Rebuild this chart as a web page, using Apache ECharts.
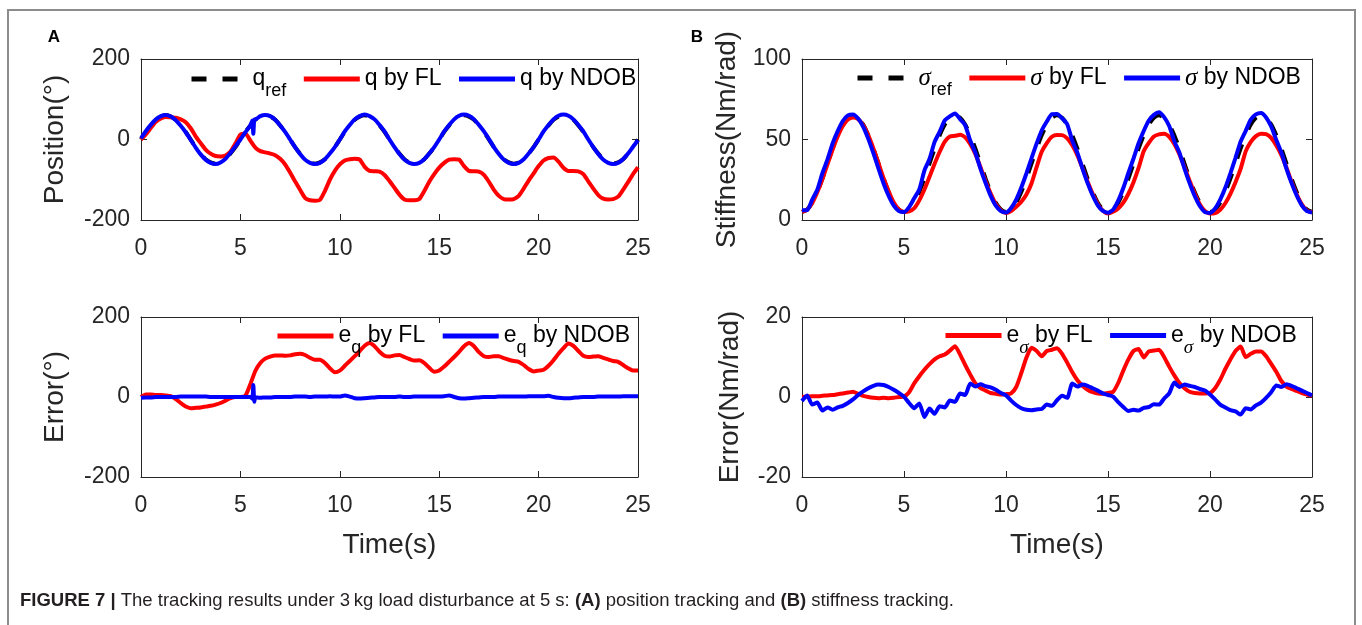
<!DOCTYPE html>
<html>
<head>
<meta charset="utf-8">
<script src="https://cdn.jsdelivr.net/npm/echarts@6/dist/echarts.min.js"></script>
<style>
html,body{margin:0;padding:0;background:#fff;}
#chart{width:1362px;height:625px;}
</style>
</head>
<body>
<div id="chart"></div>
<script>
// ---------------- DATA (time grid: 0 .. 25 s, step 0.25 s) ----------------
const T_START = 0, T_STEP = 0.25;
const xTickValues = [0, 5, 10, 15, 20, 25];

// Panel A (top): position tracking (deg)
const qRef = [
  0,19,35,49,57,60,57,49,35,19,0,-19,-35,-49,-57,-60,-57,-49,-35,-19,
  0,19,35,49,57,60,57,49,35,19,0,-19,-35,-49,-57,-60,-57,-49,-35,-19,
  0,19,35,49,57,60,57,49,35,19,0,-19,-35,-49,-57,-60,-57,-49,-35,-19,
  0,19,35,49,57,60,57,49,35,19,0,-19,-35,-49,-57,-60,-57,-49,-35,-19,
  0,19,35,49,57,60,57,49,35,19,0,-19,-35,-49,-57,-60,-57,-49,-35,-19,
  0];
const qFL = [
  0,13,29,44,52,56,55,54,50,43,28,8,-9,-25,-35,-41,-42,-40,-30,-10,
  12,15,-3,-20,-29,-32,-35,-39,-48,-62,-82,-104,-125,-145,-151,-152,-150,-128,-100,-78,
  -62,-52,-49,-48,-50,-68,-78,-79,-80,-88,-103,-120,-137,-149,-151,-151,-148,-128,-105,-86,
  -70,-58,-50,-49,-50,-66,-78,-79,-80,-88,-105,-125,-140,-148,-149,-148,-140,-122,-102,-84,
  -66,-52,-46,-45,-55,-70,-78,-78,-79,-86,-104,-122,-138,-147,-149,-148,-142,-125,-106,-86,
  -69];
const qNDOB = [
  3,21,37,50,58,61,57,48,34,18,-1,-20,-37,-50,-58,-61,-57,-48,-33,-17,
  0,18,35,50,58,61,58,49,35,19,0,-19,-36,-50,-58,-61,-58,-49,-35,-19,
  0,20,36,50,58,62,58,50,36,20,0,-19,-36,-50,-58,-61,-58,-49,-35,-19,
  0,20,36,50,59,62,59,50,36,20,1,-19,-36,-50,-58,-61,-58,-49,-35,-19,
  0,20,36,50,59,62,59,50,36,20,0,-19,-36,-50,-58,-61,-58,-49,-35,-18,
  -2];
const qNDOBSpike = [[5.6, 47], [5.65, 14], [5.7, 50]];

// Panel A (bottom): position error (deg)
const eqFL = [
  0,6,6,5,5,4,2,-5,-15,-24,-28,-27,-26,-24,-22,-19,-15,-9,-3,0,
  0,3,32,65,85,96,101,104,104,103,104,107,108,105,98,93,93,85,72,62,
  66,78,90,102,115,128,135,127,113,103,101,104,105,100,95,91,92,85,73,63,
  66,76,88,100,113,127,135,127,112,102,100,102,102,97,93,90,88,80,70,64,
  66,68,78,92,108,122,134,128,115,103,100,101,102,98,94,90,88,80,72,66,
  66];
const eqNDOB = [
  -2,-1,-1,0,0,0,0,0,1,1,1,1,1,1,0,0,0,0,0,0,
  0,0,0,-1,-2,-1,-1,0,0,0,0,1,1,1,0,1,1,1,2,1,
  1,4,1,-3,-4,-3,-2,-1,0,0,0,0,1,0,0,1,1,1,1,1,
  1,2,4,0,-3,-4,-3,-2,-1,0,0,0,1,1,1,1,1,1,2,2,
  2,2,3,0,-2,-3,-3,-2,-1,0,0,0,1,1,1,1,1,2,2,2,
  2];
const eqNDOBSpike = [[5.6, -4], [5.65, 30], [5.7, -12]];

// Panel B (top): stiffness tracking (Nm/rad)
const sRef = [
  5,6.5,10.7,17.4,25.7,35,44.3,52.6,59.3,63.5,65,63.5,59.3,52.6,44.3,35,25.7,17.4,10.7,6.5,
  5,6.5,10.7,17.4,25.7,35,44.3,52.6,59.3,63.5,65,63.5,59.3,52.6,44.3,35,25.7,17.4,10.7,6.5,
  5,6.5,10.7,17.4,25.7,35,44.3,52.6,59.3,63.5,65,63.5,59.3,52.6,44.3,35,25.7,17.4,10.7,6.5,
  5,6.5,10.7,17.4,25.7,35,44.3,52.6,59.3,63.5,65,63.5,59.3,52.6,44.3,35,25.7,17.4,10.7,6.5,
  5,6.5,10.7,17.4,25.7,35,44.3,52.6,59.3,63.5,65,63.5,59.3,52.6,44.3,35,25.7,17.4,10.7,6.5,
  5];
const sFL = [
  5,6.4,10.5,17.2,25.4,34.6,43.8,51.9,58.4,62.4,63.7,62.7,59.0,52.6,44.5,35.3,25.9,17.7,10.9,6.5,
  4.9,5.3,7.3,12.2,18.9,26.8,34.9,42.4,48.7,51.9,52.3,52.9,51.3,47,40.9,32.8,24.1,16.4,9.9,5.9,
  4.3,5.6,8.2,11.4,15.9,22.7,32.8,42.4,47.8,51.7,52.8,52.7,50.7,46.4,40.1,32.2,23.9,16.2,9.8,5.7,
  4.0,5.2,7.2,10.8,16.3,23.5,32.3,42.7,47.9,51.9,53.2,53.5,51.7,47.2,40.8,32.8,24.4,16.4,9.8,5.6,
  4.0,4.3,6.4,10.4,16.3,23.5,31.7,42.6,48.5,52.1,53.6,53.3,51,46.3,40.3,32.4,23.7,15.9,9.7,5.9,
  4.7];
const sNDOB = [
  6.0,6.1,12.6,18.8,29.1,37.6,47.5,55.2,61.5,65.0,65.6,63.0,57.9,50.4,41.5,31.9,22.7,14.9,8.9,5.5,
  4.9,8.0,13.5,19.0,30.7,37.9,48.5,54.9,61.9,64.4,66.2,62.6,58.8,49.2,41.7,31.8,23.0,15.0,8.9,5.5,
  4.6,7.4,12.7,20.2,28.9,38.3,47.4,55.6,61.2,65.7,65.8,63.2,59.5,49.2,41.7,31.9,22.9,15.2,9.1,5.6,
  4.5,6.4,12.0,19.9,29.2,38.2,47.7,55.3,61.8,65.3,66.9,63.9,58.4,49.0,41.8,31.9,22.9,14.9,8.7,4.9,
  4.4,7.1,12.6,20.0,29.0,38.6,48.7,55.4,62.4,65.6,66.4,63.7,58.1,49.7,41.8,31.8,22.9,15.2,9.1,5.5,
  4.6];

// Panel B (bottom): stiffness error (Nm/rad)
const esFL = [
  0,0.1,0.2,0.2,0.3,0.4,0.5,0.7,0.9,1.1,1.3,0.8,0.3,0,-0.2,-0.3,-0.2,-0.3,-0.2,0,
  0.1,1.2,3.4,5.2,6.8,8.2,9.4,10.2,10.6,11.6,12.7,10.6,8,5.6,3.4,2.2,1.6,1.0,0.8,0.6,
  0.7,0.9,2.5,6,9.8,12.3,11.5,10.2,11.5,11.8,12.2,10.8,8.6,6.2,4.2,2.8,1.8,1.2,0.9,0.8,
  1.0,1.3,3.5,6.6,9.4,11.5,12.0,9.9,11.4,11.6,11.8,10,7.6,5.4,3.5,2.2,1.3,1.0,0.9,0.9,
  1.0,2.2,4.3,7,9.4,11.5,12.6,10,10.8,11.4,11.4,10.2,8.3,6.3,4,2.6,2,1.5,1,0.6,
  0.3];
const esNDOB = [
  -1.0,0.4,-1.9,-1.4,-3.4,-2.6,-3.2,-2.6,-2.2,-1.5,-0.6,0.5,1.4,2.2,2.8,3.1,3.0,2.5,1.8,1.0,
  0.1,-1.5,-2.8,-1.6,-5.0,-2.9,-4.2,-2.3,-2.6,-0.9,-1.2,0.9,0.5,3.4,2.6,3.2,2.7,2.4,1.8,1.0,
  0.4,-0.9,-2.0,-2.8,-3.2,-3.3,-3.1,-3.0,-1.9,-2.2,-0.8,0.3,-0.2,3.4,2.6,3.1,2.8,2.2,1.6,0.9,
  0.5,0.1,-1.3,-2.5,-3.5,-3.2,-3.4,-2.7,-2.5,-1.8,-1.9,-0.4,0.9,3.6,2.5,3.1,2.8,2.5,2.0,1.6,
  0.6,-0.6,-1.9,-2.6,-3.3,-3.6,-4.4,-2.8,-3.1,-2.1,-1.4,-0.2,1.2,2.9,2.5,3.2,2.8,2.2,1.6,1.0,
  0.4];

// Axis ranges / tick labels
const panels = [
  { yName: 'Position(°)',       yMin: -200, yMax: 200, yStep: 200 },
  { yName: 'Stiffness(Nm/rad)', yMin: 0,    yMax: 100, yStep: 50  },
  { yName: 'Error(°)',          yMin: -200, yMax: 200, yStep: 200 },
  { yName: 'Error(Nm/rad)',     yMin: -20,  yMax: 20,  yStep: 20  }
];
const xName = 'Time(s)';
const captionText = '{b|FIGURE 7 |} The tracking results under 3\u2009kg load disturbance at 5 s: {b|(A)} position tracking and {b|(B)} stiffness tracking.';

// ---------------- helpers ----------------
function toPairs(vals, extra) {
  const out = vals.map((v, i) => [T_START + i * T_STEP, v]);
  if (extra) { extra.forEach(p => out.push(p)); out.sort((a, b) => a[0] - b[0]); }
  return out;
}

const FONT = '"Liberation Sans", Arial, Helvetica, sans-serif';
const AXC = '#262626';
const RED = '#ff0000', BLUE = '#0000ff', BLACK = '#000000';

const gridRects = [
  { left: 141, top: 59,  width: 497, height: 161 },
  { left: 802, top: 59,  width: 510, height: 161 },
  { left: 141, top: 317, width: 497, height: 160 },
  { left: 802, top: 317, width: 510, height: 160 }
];
const yNameGaps = [72, 61, 72, 58];

const grid = gridRects.map(r => Object.assign({ containLabel: false, outerBoundsMode: 'none' }, r));

const xAxis = [], yAxis = [];
gridRects.forEach((r, gi) => {
  const p = panels[gi];
  const isBottom = gi >= 2;
  const line = { show: true, onZero: false, lineStyle: { color: AXC, width: 1 } };
  const tick = { show: true, inside: true, length: 6, lineStyle: { color: AXC, width: 1 } };
  xAxis.push({
    gridIndex: gi, type: 'value', position: 'bottom', min: 0, max: 25, interval: 5,
    axisLine: line, axisTick: tick, splitLine: { show: false },
    axisLabel: { show: true, color: AXC, fontSize: 23, fontFamily: FONT, margin: 17,
                 showMinLabel: true, showMaxLabel: true },
    name: isBottom ? xName : '', nameLocation: 'middle', nameGap: 54,
    nameTextStyle: { color: AXC, fontSize: 28, fontFamily: FONT }
  });
  xAxis.push({
    gridIndex: gi, type: 'value', position: 'top', min: 0, max: 25, interval: 5,
    axisLine: line, axisTick: tick, splitLine: { show: false }, axisLabel: { show: false }
  });
  yAxis.push({
    gridIndex: gi, type: 'value', position: 'left', min: p.yMin, max: p.yMax, interval: p.yStep,
    axisLine: line, axisTick: tick, splitLine: { show: false },
    axisLabel: { show: true, color: AXC, fontSize: 23, fontFamily: FONT, margin: 11,
                 showMinLabel: true, showMaxLabel: true },
    name: p.yName, nameLocation: 'middle', nameRotate: 90, nameGap: yNameGaps[gi],
    nameTextStyle: { color: AXC, fontSize: 28, fontFamily: FONT }
  });
  yAxis.push({
    gridIndex: gi, type: 'value', position: 'right', min: p.yMin, max: p.yMax, interval: p.yStep,
    axisLine: line, axisTick: tick, splitLine: { show: false }, axisLabel: { show: false }
  });
});

function mkSeries(name, gi, data, color, dashed) {
  return {
    type: 'line', name: name, xAxisIndex: gi * 2, yAxisIndex: gi * 2,
    data: data, symbol: 'none', showSymbol: false, smooth: 0.2, color: color,
    lineStyle: { color: color, width: 4, type: dashed ? [15, 16] : 'solid' },
    animation: false, silent: true
  };
}

const series = [
  mkSeries('q_ref', 0, toPairs(qRef), BLACK, true),
  mkSeries('q by FL', 0, toPairs(qFL), RED),
  mkSeries('q by NDOB', 0, toPairs(qNDOB, qNDOBSpike), BLUE),
  mkSeries('σ_ref', 1, toPairs(sRef), BLACK, true),
  mkSeries('σ by FL', 1, toPairs(sFL), RED),
  mkSeries('σ by NDOB', 1, toPairs(sNDOB), BLUE),
  mkSeries('e_q by FL', 2, toPairs(eqFL), RED),
  mkSeries('e_q by NDOB', 2, toPairs(eqNDOB, eqNDOBSpike), BLUE),
  mkSeries('e_σ by FL', 3, toPairs(esFL), RED),
  mkSeries('e_σ by NDOB', 3, toPairs(esNDOB), BLUE)
];

const legendLabels = {
  'q_ref': '{m|q}{sub|ref}',
  'q by FL': '{m|q by FL}',
  'q by NDOB': '{m|q by NDOB}',
  'σ_ref': '{sig|σ}{sub|ref}',
  'σ by FL': '{sig|σ}{m| by FL}',
  'σ by NDOB': '{sig|σ}{m| by NDOB}',
  'e_q by FL': '{m|e}{sub|q}{m| by FL}',
  'e_q by NDOB': '{m|e}{sub|q}{m| by NDOB}',
  'e_σ by FL': '{m|e}{subsig|σ}{m| by FL}',
  'e_σ by NDOB': '{m|e}{subsig|σ}{m| by NDOB}'
};
const rich = {
  m:      { fontSize: 23, fontFamily: FONT, color: '#000', lineHeight: 44, verticalAlign: 'middle' },
  sig:    { fontSize: 25, fontFamily: '"Liberation Serif", "DejaVu Serif", serif', fontStyle: 'italic', color: '#000', lineHeight: 44, verticalAlign: 'middle' },
  sub:    { fontSize: 18, fontFamily: FONT, color: '#000', lineHeight: 20, padding: [24, 0, 0, 0], verticalAlign: 'middle' },
  subsig: { fontSize: 19, fontFamily: '"Liberation Serif", "DejaVu Serif", serif', fontStyle: 'italic', color: '#000', lineHeight: 20, padding: [24, 0, 0, 0], verticalAlign: 'middle' }
};
function mkLegend(names, left, centerY) {
  return {
    data: names, left: left, top: centerY - 22, orient: 'horizontal', padding: 0,
    itemWidth: 56, itemHeight: 14, itemGap: 15, selectedMode: false,
    lineStyle: { width: 5 },
    itemStyle: { color: 'rgba(0,0,0,0)', borderWidth: 0, opacity: 0 },
    formatter: n => legendLabels[n],
    textStyle: { fontSize: 23, fontFamily: FONT, color: '#000', rich: rich }
  };
}
const legend = [
  mkLegend(['q_ref', 'q by FL', 'q by NDOB'], 189, 80),
  mkLegend(['σ_ref', 'σ by FL', 'σ by NDOB'], 855, 79),
  mkLegend(['e_q by FL', 'e_q by NDOB'], 275, 337),
  mkLegend(['e_σ by FL', 'e_σ by NDOB'], 943, 336)
];

const graphic = [
  { type: 'polyline', silent: true, shape: { points: [[8, 630], [8, 10], [1355, 10], [1355, 630]] },
    style: { stroke: '#8c8c8c', lineWidth: 2, fill: null } },
  { type: 'text', x: 54, y: 37, silent: true,
    style: { text: 'A', fontSize: 17, fontWeight: 'bold', fontFamily: FONT, fill: '#000', align: 'center', verticalAlign: 'middle' } },
  { type: 'text', x: 697, y: 37, silent: true,
    style: { text: 'B', fontSize: 17, fontWeight: 'bold', fontFamily: FONT, fill: '#000', align: 'center', verticalAlign: 'middle' } },
  { type: 'text', x: 20, y: 601, silent: true,
    style: { text: captionText, fontSize: 18.5, fontFamily: FONT, fill: '#231f20', align: 'left', verticalAlign: 'middle',
             rich: { b: { fontSize: 18.5, fontFamily: FONT, fontWeight: 'bold', fill: '#231f20' } } } }
];

const chart = echarts.init(document.getElementById('chart'), null, { renderer: 'canvas' });
chart.setOption({
  animation: false,
  backgroundColor: '#ffffff',
  grid: grid, xAxis: xAxis, yAxis: yAxis,
  legend: legend, series: series, graphic: graphic,
  tooltip: { show: false }
});
</script>
</body>
</html>
